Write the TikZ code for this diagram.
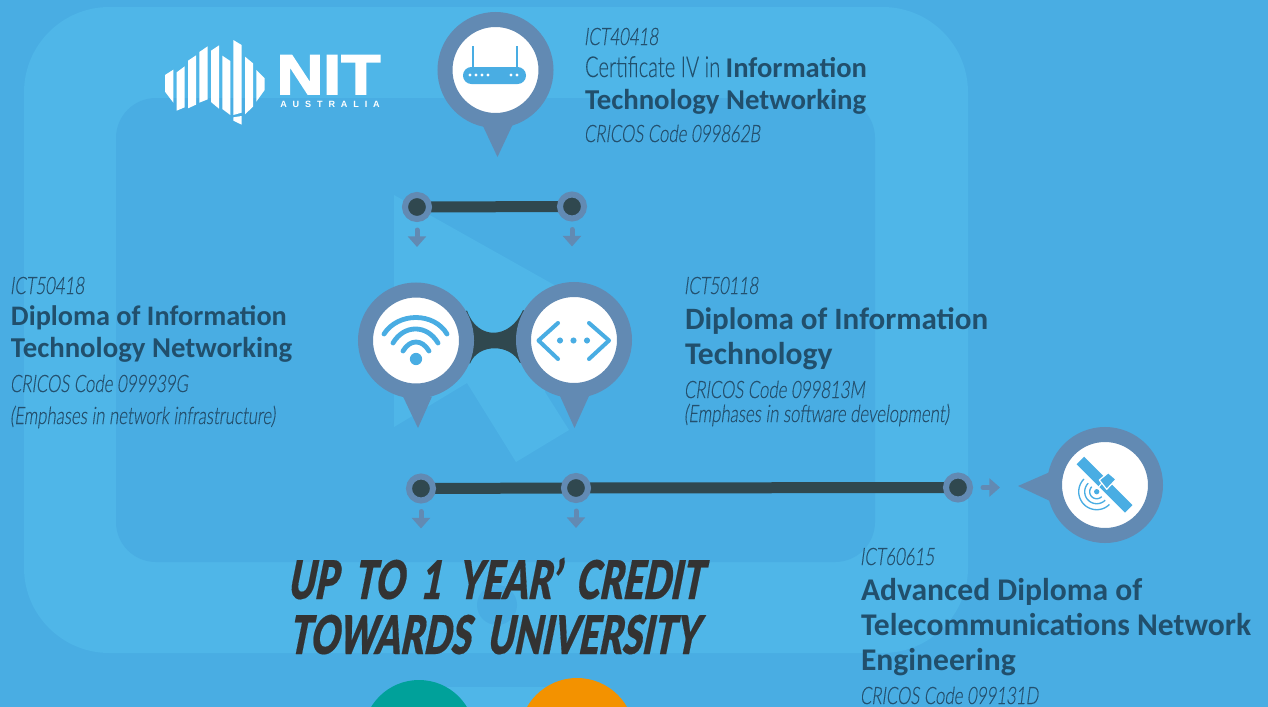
\documentclass[tikz,border=0pt]{standalone}
\usepackage{fontspec}
\usetikzlibrary{arrows.meta,calc,backgrounds}
\setmainfont{Carlito}
\newfontfamily\headf[Ligatures=Common]{Carlito}
\newfontfamily\condi[FakeStretch=0.70,FakeSlant=0.13,FakeBold=0.25]{Lato Light}
\newfontfamily\condu[FakeStretch=0.70,FakeBold=0.15]{Lato Light}
\newfontfamily\titlef[FakeStretch=0.67,FakeSlant=0.2,FakeBold=0.3,WordSpace=2.0]{Lato Black}
\newfontfamily\logof[FakeStretch=1.15,FakeBold=3]{Liberation Sans Bold}
\newfontfamily\logos[LetterSpace=65]{Liberation Sans Bold}
\definecolor{bgbase}{HTML}{49ADE3}
\definecolor{bglight}{HTML}{4FB6E8}
\definecolor{ringc}{HTML}{628AB3}
\definecolor{darkc}{HTML}{30484F}
\definecolor{headc}{HTML}{214F6C}
\definecolor{subc}{HTML}{24506E}
\definecolor{titlec}{HTML}{333333}
\definecolor{tealc}{HTML}{00A19A}
\definecolor{orangec}{HTML}{F39200}
\tikzset{
  pinnode/.style={circle,fill=white,draw=ringc,line width=11.25pt,minimum size=75.75pt,inner sep=0pt,outer sep=0pt},
  dotnode/.style={circle,fill=darkc,draw=ringc,line width=4.5pt,minimum size=18pt,inner sep=0pt,outer sep=0pt},
  barline/.style={draw=darkc,line width=8.25pt},
  arw/.style={draw=ringc,line width=3.75pt,line cap=round,-{Triangle[length=8pt,width=13.5pt]}},
  txt/.style={anchor=base west,inner sep=0pt,outer sep=0pt,text=subc},
  code/.style={txt,xshift=-0.75pt,font=\condi\fontsize{18}{18}\selectfont},
  headsm/.style={txt,text=headc,font=\headf\bfseries\fontsize{21.6}{22}\selectfont},
  headin/.style={txt,text=headc,font=\headf\bfseries\fontsize{21.2}{22}\selectfont},
  headlg/.style={txt,text=headc,font=\headf\bfseries\fontsize{23.7}{24}\selectfont},
  headlh/.style={txt,text=headc,font=\headf\bfseries\fontsize{23.3}{24}\selectfont},
  titletxt/.style={anchor=base west,inner sep=0pt,outer sep=0pt,text=titlec,font=\titlef\fontsize{40}{40}\selectfont},
  iconl/.style={draw=bgbase,line cap=round,line join=round},
  tipf/.style={fill=ringc},
}
\begin{document}
\begin{tikzpicture}[x=0.75pt,y=-0.75pt]
\useasboundingbox (0,0) rectangle (1268,707);
% background
\begin{pgfonlayer}{background}
\fill[bgbase] (0,0) rectangle (1268,707);
\fill[bglight,rounded corners=64pt] (24,7) rectangle (968,653);
\fill[bgbase,rounded corners=30pt] (116,98) rectangle (875,562);
\fill[bglight] (394,195) -- (565,291) -- (545,392) -- (569,430) -- (516,462) -- (467,383) -- (394,427) -- cycle;
\fill[bgbase] (497,605) circle[radius=15pt];
\fill[bglight] (430,687) rectangle (585,707);
\begin{scope}
\clip (0,0) rectangle (1268,707);
\fill[tealc] (419,736) circle[radius=42pt];
\fill[orangec] (577,735.6) circle[radius=43.2pt];
\end{scope}
\end{pgfonlayer}
% logo
\begin{scope}[shift={(150,0)},x=0.25pt,y=-0.25pt]
\fill[white] (45,225)--(70,209)--(70,308)--(45,275)--cycle;
\fill[white] (80,217)--(104,199)--(104,322)--(80,332)--cycle;
\fill[white] (114,182)--(138,166)--(138,314)--(114,325)--cycle;
\fill[white] (148,156)--(173,139)--(173,298)--(148,308)--cycle;
\fill[white] (183,152)--(207,136)--(207,326)--(183,306)--cycle;
\fill[white] (217,167)--(241,183)--(241,345)--(217,327)--cycle;
\fill[white] (250,120)--(275,135)--(275,338)--(250,345)--cycle;
\fill[white] (285,170)--(309,190)--(309,320)--(285,343)--cycle;
\fill[white] (319,210)--(344,235)--(344,270)--(319,305)--cycle;
\fill[white] (250,352)--(275,348)--(275,374)--(250,362)--cycle;
\end{scope}
\node[anchor=base west,inner sep=0pt,text=white,font=\logof\fontsize{42}{42}\selectfont] (nit) at (276.5,94) {NIT};
\node[anchor=base west,inner sep=0pt,text=white,font=\logos\fontsize{6.8}{7}\selectfont] (aus) at (280,107) {AUSTRALIA};
% pins
\node[pinnode] (router) at (495.5,70) {};
\node[pinnode] (wifi) at (416,340.5) {};
\node[pinnode] (codepin) at (574,340) {};
\node[pinnode] (sat) at (1105,485) {};
\fill[tipf] ($(router)+(-13,55)$) -- (497.5,157) -- ($(router)+(17,55)$) -- cycle;
\fill[tipf] ($(wifi)+(-13,56)$) -- (418,428) -- ($(wifi)+(16,56)$) -- cycle;
\fill[tipf] ($(codepin)+(-14,56)$) -- (574.5,428) -- ($(codepin)+(15,56)$) -- cycle;
\fill[tipf] ($(sat)+(-55,-13)$) -- (1018,486) -- ($(sat)+(-55,16)$) -- cycle;
% dots
\node[dotnode] (a1) at (417,207) {};
\node[dotnode] (a2) at (572,206.5) {};
\node[dotnode] (b1) at (421,488.5) {};
\node[dotnode] (b2) at (576,488) {};
\node[dotnode] (b3) at (958,487.5) {};
\begin{pgfonlayer}{background}
\draw[barline] (a1) -- (a2);
\draw[barline] (b1) -- (b2) -- (b3);
\fill[darkc] (wifi.center) -- ($(wifi)+(51,-30)$) .. controls ($(wifi)+(61,0)$) and ($(codepin)+(-64,0)$) .. ($(codepin)+(-51,-30)$) -- (codepin.center) -- ($(codepin)+(-54,23)$) .. controls ($(codepin)+(-64,3)$) and ($(wifi)+(62,3)$) .. ($(wifi)+(54,23)$) -- cycle;
\end{pgfonlayer}
% arrows
\draw[arw] ($(a1)+(0,23)$) -- ($(a1)+(0,40)$);
\draw[arw] ($(a2)+(0,23)$) -- ($(a2)+(0,40)$);
\draw[arw] ($(b1)+(0,23)$) -- ($(b1)+(0,40)$);
\draw[arw] ($(b2)+(0,23)$) -- ($(b2)+(0,40)$);
\draw[arw] ($(b3)+(25,0)$) -- ($(b3)+(42,0)$);
% router icon
\fill[bgbase,rounded corners=6.3pt] (463,67) rectangle (526,84);
\draw[iconl,line width=1.9pt,line cap=butt] (473,46) -- (473,68);
\draw[iconl,line width=1.9pt,line cap=butt] (517,46) -- (517,68);
\foreach \dx in {470,476,482,488,511,517} \fill[white] (\dx,75) circle[radius=1.2pt];
% wifi icon
\draw[iconl,line width=3.6pt] (384,334) .. controls (398,312) and (434,312) .. (447,334);
\draw[iconl,line width=3.6pt] (393,343) .. controls (404,324.3) and (427,324.3) .. (438,343);
\draw[iconl,line width=3.6pt] (403,351) .. controls (410,339) and (422,339) .. (429,351);
\fill[bgbase] (416,359) circle[radius=4.6pt];
% code icon
\draw[iconl,line width=3pt] (558,323) -- (538.5,340.5) -- (558,359);
\draw[iconl,line width=3pt] (589,323) -- (609,340.5) -- (589,359);
\foreach \dx in {560,573.5,587} \fill[bgbase] (\dx,340.5) circle[radius=2.3pt];
% satellite icon
\draw[draw=bgbase,line width=8pt] (1080.3,460.5) -- (1128.7,508.8);
\fill[bgbase,draw=white,line width=0.9pt,line join=round] (1099.3,480) -- (1108.3,472.7) -- (1116,479.3) -- (1106.7,489.3) -- cycle;
\draw[white,line width=0.8pt] (1096.5,489.5) -- (1102,483);
\fill[bgbase] (1096.7,491.7) circle[radius=2pt];
\foreach \rr in {7,12,18}
  \draw[draw=bgbase,line width=1pt] plot[domain=45:225,samples=30,smooth] ({1096.7+\rr*cos(\x)},{491.7+\rr*sin(\x)});
% texts top
\node[code] (t1) at (585,45) {ICT40418};
\node[txt,text=headc] (t2) at (585,77) {{\condu\fontsize{21.6}{22}\selectfont Certificate IV in }{\headf\bfseries\fontsize{21.4}{22}\selectfont Information}};
\node[headsm] (t3) at (585,109) {Technology Networking};
\node[code] (t4) at (585,142) {CRICOS Code 099862B};
% texts left
\node[code] (l1) at (11,294) {ICT50418};
\node[headin] (l2) at (11,325) {Diploma of Information};
\node[headsm] (l3) at (11,357) {Technology Networking};
\node[code] (l4) at (11,392) {CRICOS Code 099939G};
\node[code] (l5) at (11,424) {(Emphases in network infrastructure)};
% texts right
\node[code] (r1) at (685,294) {ICT50118};
\node[headlh] (r2) at (685,329) {Diploma of Information};
\node[headlg] (r3) at (685,364) {Technology};
\node[code] (r4) at (685,398) {CRICOS Code 099813M};
\node[code] (r5) at (685,422) {(Emphases in software development)};
% texts lower right
\node[code] (s1) at (861,565) {ICT60615};
\node[headlg] (s2) at (861,600) {Advanced Diploma of};
\node[headlg] (s3) at (861,635) {Telecommunications Network};
\node[headlg] (s4) at (861,670) {Engineering};
\node[code] (s5) at (861,704) {CRICOS Code 099131D};
% title
\node[titletxt] (h1) at (287,599) {UP TO 1 YEAR’ CREDIT};
\node[titletxt] (h2) at (288,654) {TOWARDS UNIVERSITY};
\end{tikzpicture}
\end{document}
